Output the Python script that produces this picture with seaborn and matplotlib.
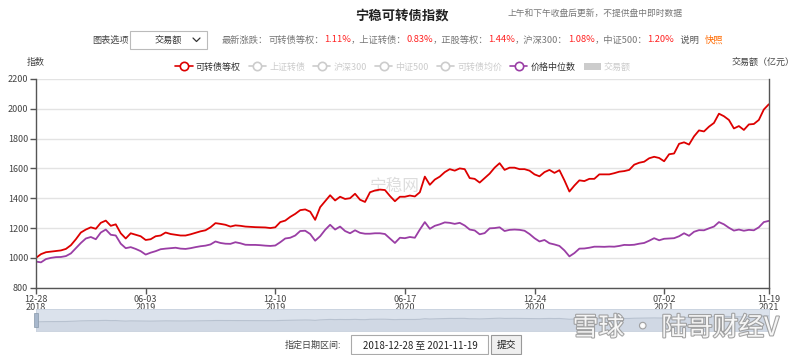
import numpy as np
import pandas as pd
import seaborn as sns
import matplotlib.pyplot as plt
from matplotlib.lines import Line2D
from matplotlib.patches import Patch, Rectangle
import matplotlib.patheffects as pe

# 可转债等权 / 价格中位数，按等间隔交易日取样 (2018-12-28 ~ 2021-11-19)
kzz_dengquan = [
    1000, 1025, 1038, 1042, 1046, 1050, 1060, 1085, 1125, 1170,
    1190, 1205, 1195, 1235, 1250, 1215, 1225, 1165, 1130, 1165,
    1155, 1145, 1120, 1125, 1145, 1150, 1170, 1160, 1155, 1150,
    1150, 1158, 1168, 1178, 1185, 1205, 1233, 1228, 1222, 1210,
    1218, 1215, 1210, 1208, 1206, 1205, 1204, 1200, 1205, 1240,
    1250, 1275, 1295, 1320, 1325, 1310, 1255, 1340, 1380, 1420,
    1385, 1410, 1395, 1400, 1430, 1390, 1375, 1440, 1452, 1458,
    1455, 1415, 1380, 1410, 1410, 1418, 1412, 1440, 1545, 1490,
    1525, 1545, 1575, 1595, 1585, 1600, 1595, 1535, 1530, 1505,
    1535, 1565, 1605, 1635, 1590, 1605, 1605, 1595, 1595, 1585,
    1560, 1547, 1575, 1590, 1570, 1588, 1520, 1445, 1485, 1520,
    1515, 1530, 1530, 1560, 1560, 1560, 1568, 1578, 1582, 1590,
    1625, 1638, 1645, 1668, 1678, 1670, 1648, 1695, 1700, 1765,
    1775, 1760, 1815, 1855, 1848, 1880, 1905, 1967, 1950, 1925,
    1868, 1884, 1858, 1895, 1898, 1925, 1995, 2030,
]
jiage_zhongweishu = [
    975, 970, 992, 1000, 1005, 1006, 1012, 1030, 1065, 1100,
    1130, 1140, 1125, 1170, 1190, 1155, 1150, 1095, 1065, 1072,
    1060, 1045, 1022, 1035, 1045, 1058, 1062, 1065, 1068, 1062,
    1060, 1065, 1072, 1078, 1082, 1090, 1110, 1100, 1095, 1094,
    1105, 1098, 1088, 1087, 1087, 1085, 1082, 1080, 1083, 1105,
    1130, 1135, 1150, 1180, 1182, 1160, 1115, 1145, 1188, 1222,
    1190, 1210, 1180, 1165, 1185, 1168, 1162, 1162, 1165, 1165,
    1160, 1130, 1100, 1135, 1132, 1140, 1135, 1190, 1240, 1195,
    1215, 1225, 1238, 1235, 1228, 1235, 1217, 1190, 1184, 1158,
    1166, 1198, 1200, 1205, 1180, 1188, 1190, 1188, 1182, 1160,
    1132, 1110, 1120, 1098, 1090, 1080, 1050, 1010, 1032, 1062,
    1063, 1068, 1075, 1075, 1074, 1076, 1075, 1080, 1087, 1086,
    1088, 1095, 1100, 1115, 1132, 1118, 1128, 1130, 1132, 1145,
    1165, 1148, 1175, 1186, 1185, 1198, 1210, 1240, 1225, 1202,
    1183, 1190, 1182, 1188, 1185, 1205, 1240, 1248,
]
tick_idx = [0, 22, 48, 74, 100, 126, 147]
tick_labels = ["12-28\n2018", "06-03\n2019", "12-10\n2019", "06-17\n2020",
               "12-24\n2020", "07-02\n2021", "11-19\n2021"]
legend_names = ["可转债等权", "上证转债", "沪深300", "中证500", "可转债均价", "价格中位数", "交易额"]
zhangdie_names = ["可转债等权", "上证转债", "正股等权", "沪深300", "中证500"]
zhangdie_vals = ["1.11%", "0.83%", "1.44%", "1.08%", "1.20%"]

RED = "#dd0000"
PURPLE = "#9a3ea5"
GRAY = "#cccccc"

sns.set_theme(style="white")
plt.rcParams['font.family'] = ['Noto Sans CJK SC', 'DejaVu Sans']

n = len(kzz_dengquan)
df = pd.DataFrame({
    "idx": list(range(n)) * 2,
    "value": kzz_dengquan + jiage_zhongweishu,
    "series": ["可转债等权"] * n + ["价格中位数"] * n,
})

fig = plt.figure(figsize=(8, 3.55), dpi=100)
renderer = fig.canvas.get_renderer()
ax = fig.add_axes([0.045, 0.1896, 0.916, 0.588])
sns.lineplot(data=df, x="idx", y="value", hue="series",
             palette={"可转债等权": RED, "价格中位数": PURPLE},
             linewidth=1.3, ax=ax, legend=False)
ax.set_xlim(0, n - 1)
ax.set_ylim(800, 2200)
ax.set_yticks(range(800, 2201, 200))
ax.set_xticks(tick_idx)
ax.set_xticklabels(tick_labels, linespacing=0.85)
ax.set_xlabel("")
ax.set_ylabel("")
ax.grid(axis="y", color="#e3e3e3", linewidth=1)
ax.grid(axis="x", visible=False)
ax.spines["top"].set_visible(False)
for s in ["left", "right", "bottom"]:
    ax.spines[s].set_color("#555555")
    ax.spines[s].set_linewidth(1)
ax.tick_params(axis="both", labelsize=6.5, colors="#555555", length=4, width=1,
               direction="out", pad=1.5, left=True, bottom=True,
               labelcolor="#444444")

# 水印
ax.text(0.49, 0.485, "宁稳网", transform=ax.transAxes, fontsize=12, color="#dddddd",
        ha="center", va="center", zorder=0)

# 标题区
fig.text(0.503, 0.955, "宁稳可转债指数", fontsize=9.6, fontweight="bold", color="#222222",
         ha="center", va="center")
fig.text(0.634, 0.962, "上午和下午收盘后更新，不提供盘中即时数据", fontsize=6.3, color="#777777",
         ha="left", va="center")

y2 = 1 - 40 / 355
fig.text(92 / 800, y2, "图表选项", fontsize=6.6, color="#444444", va="center")
fig.patches.append(Rectangle((130 / 800, 1 - 49 / 355), 77 / 800, 18 / 355,
                             transform=fig.transFigure, fill=False, edgecolor="#bbbbbb", lw=0.8))
fig.text(155 / 800, y2, "交易额", fontsize=6.6, color="#333333", va="center")
fig.add_artist(Line2D([193 / 800, 196.5 / 800, 200 / 800],
                      [y2 + 2 / 355, y2 - 1.5 / 355, y2 + 2 / 355],
                      transform=fig.transFigure, color="#333333", lw=0.9))


def seq_text(x_px, y, pieces, size=6.7):
    # 依次排列不同颜色的文字片段
    x = x_px / 800
    for txt, col in pieces:
        t = fig.text(x, y, txt, fontsize=size, color=col, va="center", ha="left")
        w = t.get_window_extent(renderer=renderer).width
        x += w / 800


pieces = [("最新涨跌：", "#777777")]
for k in range(len(zhangdie_names)):
    lead = "" if k == 0 else "，"
    pieces.append((lead + zhangdie_names[k] + "：", "#777777"))
    pieces.append((zhangdie_vals[k], "#ff2222"))
pieces.append(("   说明   ", "#555555"))
pieces.append(("快照", "#ff6a00"))
seq_text(222, y2, pieces)

# 图例
leg_colors = [RED, GRAY, GRAY, GRAY, GRAY, PURPLE]
handles = [Line2D([], [], color=c, lw=1.2, marker="o", markersize=6,
                  markerfacecolor="white", markeredgewidth=1.2) for c in leg_colors]
handles.append(Patch(facecolor="#cccccc", edgecolor="none"))
label_colors = ["#333333", GRAY, GRAY, GRAY, GRAY, "#333333", GRAY]
fig.legend(handles, legend_names, loc="center", bbox_to_anchor=(0.504, 1 - 67 / 355),
           ncol=7, frameon=False, fontsize=6.5, columnspacing=0.9, handlelength=1.9,
           handletextpad=0.35, labelcolor=label_colors)

fig.text(0.034, 1 - 62 / 355, "指数", fontsize=6.5, color="#444444", va="center")
fig.text(0.993, 1 - 62 / 355, "交易额（亿元）", fontsize=6.5, color="#444444", va="center", ha="right")

# 区域缩放条
axs = fig.add_axes([0.045, 0.068, 0.916, 0.062])
axs.set_facecolor("#dbe2ec")
axs.fill_between(range(n), kzz_dengquan, -600, color="#d0d8e4", lw=0)
axs.plot(range(n), kzz_dengquan, color="#b8c2d0", lw=0.8)
axs.set_xlim(0, n - 1)
axs.set_ylim(-560, 3250)
axs.set_xticks([])
axs.set_yticks([])
for s in axs.spines.values():
    s.set_color("#c9d2de")
    s.set_linewidth(0.6)
fig.patches.append(Rectangle((34 / 800, 1 - 327 / 355), 4 / 800, 14 / 355,
                             transform=fig.transFigure, facecolor="#a7b7cc", edgecolor="#8899aa", lw=0.5))

# 底部日期区间
yb = 1 - 345 / 355
fig.text(0.356, yb, "指定日期区间:", fontsize=6.5, color="#444444", va="center")
fig.patches.append(Rectangle((351 / 800, 1 - 354 / 355), 137 / 800, 19 / 355,
                             transform=fig.transFigure, fill=False, edgecolor="#aaaaaa", lw=0.8))
fig.text(0.525, yb, "2018-12-28 至 2021-11-19", fontsize=7, color="#222222", va="center", ha="center")
fig.patches.append(Rectangle((491 / 800, 1 - 354 / 355), 30 / 800, 19 / 355,
                             transform=fig.transFigure, facecolor="#efefef", edgecolor="#999999", lw=0.8))
fig.text(0.633, yb, "提交", fontsize=7, color="#222222", va="center", ha="center")

# 转载水印
fig.text(0.845, 0.075, "雪球 · 陆哥财经V", fontsize=18.5, color="white", ha="center", va="center",
         alpha=0.9, path_effects=[pe.withStroke(linewidth=1.6, foreground="#9a9a9a")])

fig.savefig("out.png", dpi=100)
